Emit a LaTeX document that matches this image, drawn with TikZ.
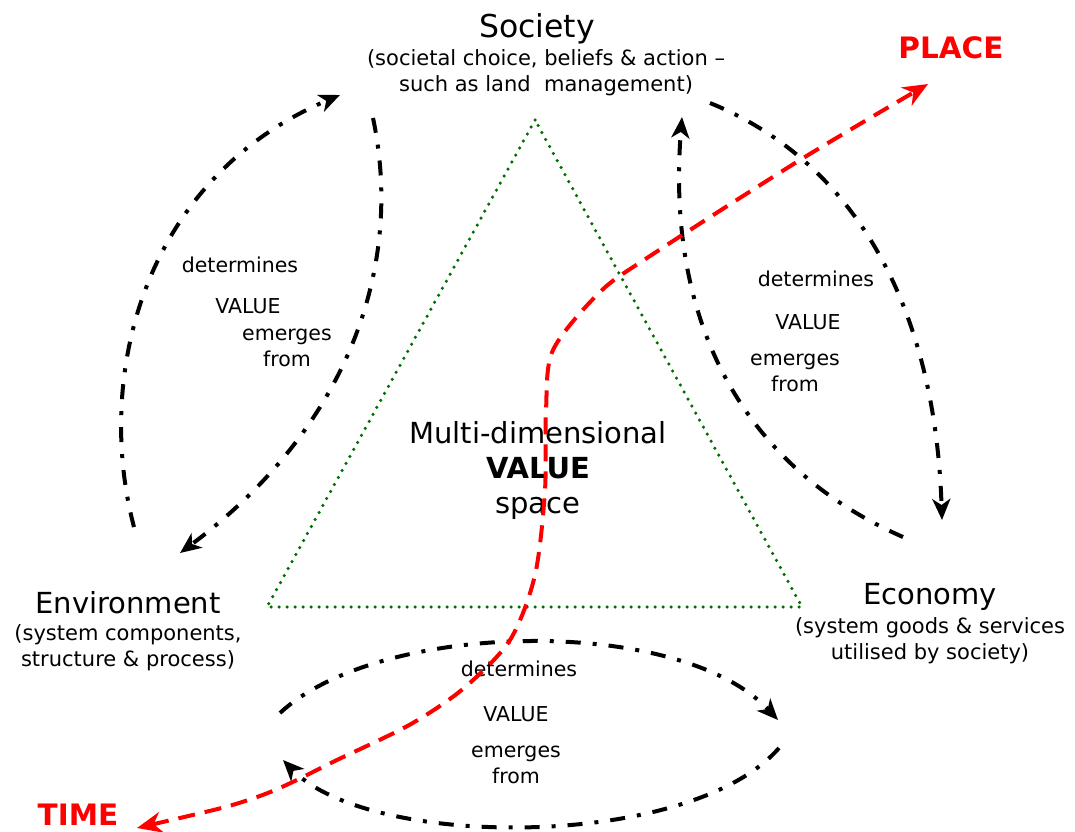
\documentclass[tikz,border=0pt]{standalone}
\usepackage{fontspec}
\setmainfont{DejaVu Sans}
\usetikzlibrary{arrows.meta, positioning}
\definecolor{valgreen}{RGB}{0,110,0}
\definecolor{valred}{RGB}{255,0,0}

\begin{document}
\begin{tikzpicture}[
    x=1pt, y=-1pt,
    pole/.style={font=\fontsize{29}{34}\selectfont, inner sep=0pt},
    poledesc/.style={font=\fontsize{21}{26}\selectfont, align=center, inner sep=0pt},
    flowlbl/.style={font=\fontsize{20.5}{25.5}\selectfont, align=center, inner sep=0pt},
    tracklbl/.style={font=\fontsize{29.5}{34}\selectfont\bfseries, text=valred, inner sep=0pt},
    cycarrow/.style={-{Stealth[length=21pt, width=18pt, inset=6pt]}, line width=4pt, dash pattern=on 15pt off 12pt on 4pt off 12pt},
    trackline/.style={{Stealth[length=25pt, width=21pt, inset=8pt]}-{Stealth[length=25pt, width=21pt, inset=8pt]}, valred, line width=4pt, dash pattern=on 17pt off 10pt},
    valspace/.style={valgreen, line width=3.5pt, dash pattern=on 0pt off 8pt, line cap=round}
]
\useasboundingbox (0,0) rectangle (1075,831);

% Value space triangle
\coordinate (apex) at (535,120);
\coordinate (left) at (267,607);
\coordinate (right) at (802,607);
\draw[valspace] (apex) -- (left) -- (right) -- cycle;
\node[font=\fontsize{29}{35}\selectfont, align=center] (space) at (538,470) {Multi-dimensional\\\textbf{VALUE}\\space};

% Poles
\node[pole, font=\fontsize{31.5}{36}\selectfont] (soc) at (537,29) {Society};
\node[poledesc] (socdesc) at (546,73) {(societal choice, beliefs \& action --\\such as land\ \ management)};
\node[pole] (env) at (128,603) {Environment};
\node[poledesc] (envdesc) at (128,648) {(system components,\\structure \& process)};
\node[pole] (eco) at (930,597) {Economy};
\node[poledesc] (ecodesc) at (930,641) {(system goods \& services\\utilised by society)};

% Place / time
\node[tracklbl] (place) at (951,48) {PLACE};
\node[tracklbl] (time) at (78,815) {TIME};

% Loop end points
\coordinate (envup) at (134,527);
\coordinate (socin) at (340,95);
\coordinate (socout) at (373,118);
\coordinate (envin) at (180,553);
\coordinate (ecoup) at (903,537);
\coordinate (socin2) at (682,117);
\coordinate (socout2) at (710,103);
\coordinate (ecoin) at (942,520);
\coordinate (envout) at (280,713);
\coordinate (ecoin2) at (778,720);
\coordinate (ecoout) at (779,748);
\coordinate (envin2) at (283,760);

% Environment <-> Society
\draw[cycarrow] (envup) .. controls (95,380) and (140,180) .. (socin);
\draw[cycarrow] (socout) .. controls (405,270) and (345,430) .. (envin);
\node[flowlbl] (ls1) at (240,265) {determines};
\node[flowlbl] (ls2) at (248,306) {VALUE};
\node[flowlbl] (ls3) at (287,348) {emerges\\from};

% Society <-> Economy
\draw[cycarrow] (ecoup) .. controls (750,470) and (665,330) .. (socin2);
\draw[cycarrow] (socout2) .. controls (850,160) and (935,300) .. (ecoin);
\node[flowlbl] (rs1) at (816,279) {determines};
\node[flowlbl] (rs2) at (808,322) {VALUE};
\node[flowlbl] (rs3) at (795,373) {emerges\\from};

% Environment <-> Economy
\draw[cycarrow] (envout) .. controls (380,620) and (680,615) .. (ecoin2);
\draw[cycarrow] (ecoout) .. controls (690,850) and (370,850) .. (envin2);
\node[flowlbl] (bs1) at (519,669) {determines};
\node[flowlbl] (bs2) at (516,714) {VALUE};
\node[flowlbl] (bs3) at (516,765) {emerges\\from};

% Time - place track
\coordinate (timetip) at (137,828);
\coordinate (placetip) at (928,84);
\draw[trackline] plot[smooth] coordinates {(timetip) (257,797) (339,759) (411,724) (464,688) (510,640) (535,575) (545,490) (546,410) (553,350) (600,292) (650,256) (800,160) (placetip)};

\end{tikzpicture}
\end{document}
